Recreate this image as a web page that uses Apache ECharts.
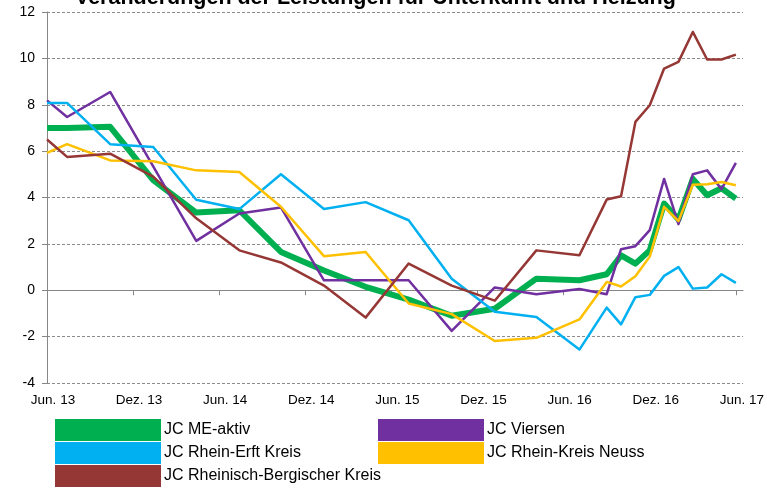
<!DOCTYPE html>
<html>
<head>
<meta charset="utf-8">
<script src="https://cdn.jsdelivr.net/npm/echarts@6/dist/echarts.min.js"></script>
<style>
  html, body { margin: 0; background: #fff; }
  #chart { width: 767px; height: 490px; }
</style>
</head>
<body>
<div id="chart"></div>
<script>
const chartTitle = 'Veränderungen der Leistungen für Unterkunft und Heizung'
const tickLabels = ['Jun. 13', 'Dez. 13', 'Jun. 14', 'Dez. 14', 'Jun. 15', 'Dez. 15', 'Jun. 16', 'Dez. 16', 'Jun. 17']
const tickMonths = [0, 6, 12, 18, 24, 30, 36, 42, 48]

// months counted from Jun. 13 (quarterly at first, monthly from autumn 2016)
const months = [0, 1.4, 4.4, 7.4, 10.4, 13.4, 16.3, 19.3, 22.2, 25.2, 28.2, 31.2, 34.1, 37.1, 39, 40, 41, 42, 43, 44, 45, 46, 47, 48]

const meAktiv = [7.0, 7.0, 7.05, 4.75, 3.35, 3.45, 1.65, 0.85, 0.15, -0.4, -1.1, -0.8, 0.5, 0.43, 0.69, 1.5, 1.15, 1.72, 3.74, 3.05, 4.8, 4.1, 4.4, 3.95]
const viersen = [8.19, 7.47, 8.55, 5.34, 2.13, 3.31, 3.57, 0.43, 0.43, 0.43, -1.75, 0.12, -0.17, 0.05, -0.17, 1.77, 1.9, 2.59, 4.8, 2.85, 5.0, 5.17, 4.36, 5.49]
const rheinErft = [8.08, 8.08, 6.3, 6.18, 3.9, 3.5, 5.0, 3.5, 3.8, 3.02, 0.5, -0.93, -1.15, -2.56, -0.75, -1.47, -0.3, -0.2, 0.62, 1.0, 0.07, 0.12, 0.69, 0.32]
const neuss = [5.92, 6.3, 5.6, 5.56, 5.17, 5.1, 3.6, 1.47, 1.65, -0.57, -1.03, -2.19, -2.05, -1.26, 0.36, 0.16, 0.6, 1.45, 3.6, 2.98, 4.55, 4.57, 4.67, 4.53]
const rheinBerg = [6.5, 5.75, 5.89, 4.9, 3.1, 1.72, 1.2, 0.2, -1.18, 1.15, 0.2, -0.45, 1.72, 1.51, 3.91, 4.05, 7.26, 7.98, 9.56, 9.85, 11.14, 9.95, 9.95, 10.16]

const pairs = vals => vals.map((v, i) => [months[i], v])

const chart = echarts.init(document.getElementById('chart'))

const axisGrey = '#868686'

const legendBase = {
  orient: 'vertical',
  top: 419,
  padding: 0,
  icon: 'rect',
  itemWidth: 106,
  itemHeight: 22,
  itemGap: 1,
  textStyle: { fontSize: 16, color: '#000', padding: [0, 0, 0, -2] }
}

const option = {
  animation: false,
  textStyle: { fontFamily: 'Liberation Sans, Arial, sans-serif' },
  title: {
    text: chartTitle,
    left: 75,
    top: -13,
    padding: 0,
    textStyle: { fontSize: 21.5, fontWeight: 'bold', color: '#000' }
  },
  // plot area runs a little past the last month, like the Excel gridlines
  grid: { left: 47, right: 20, top: 12, bottom: 107 },
  legend: [
    Object.assign({}, legendBase, {
      left: 55,
      data: ['JC ME-aktiv', 'JC Rhein-Erft Kreis', 'JC Rheinisch-Bergischer Kreis']
    }),
    Object.assign({}, legendBase, {
      left: 378,
      data: ['JC Viersen', 'JC Rhein-Kreis Neuss']
    })
  ],
  xAxis: [
    {
      type: 'value',
      min: 0,
      max: 48.5,
      position: 'bottom',
      axisLine: { show: false, onZero: false },
      axisTick: { show: false },
      splitLine: { show: false },
      axisLabel: {
        customValues: tickMonths,
        margin: 10,
        fontSize: 13.5,
        color: '#000',
        padding: [0, 0, 0, 12],
        formatter: v => tickLabels[tickMonths.indexOf(v)]
      }
    },
    {
      type: 'value',
      min: 0,
      max: 48.5,
      position: 'bottom',
      axisLine: { show: true, onZero: true, lineStyle: { color: axisGrey } },
      axisTick: { show: true, customValues: tickMonths, length: 5, lineStyle: { color: axisGrey } },
      axisLabel: { show: false },
      splitLine: { show: false }
    }
  ],
  yAxis: {
    type: 'value',
    min: -4,
    max: 12,
    interval: 2,
    axisLine: { show: true, lineStyle: { color: axisGrey } },
    axisTick: { show: true, length: 5, lineStyle: { color: axisGrey } },
    axisLabel: { fontSize: 14, color: '#000', margin: 12 },
    splitLine: { lineStyle: { color: '#8c8c8c', type: [3, 2] } }
  },
  // Excel order: later series drawn on top
  series: [
    { name: 'JC ME-aktiv', color: '#00b050', lineWidth: 6, data: meAktiv },
    { name: 'JC Viersen', color: '#7030a0', lineWidth: 2.5, data: viersen },
    { name: 'JC Rhein-Erft Kreis', color: '#00b0f0', lineWidth: 2.5, data: rheinErft },
    { name: 'JC Rhein-Kreis Neuss', color: '#ffc000', lineWidth: 2.5, data: neuss },
    { name: 'JC Rheinisch-Bergischer Kreis', color: '#953735', lineWidth: 2.5, data: rheinBerg }
  ].map(s => ({
    name: s.name,
    type: 'line',
    xAxisIndex: 0,
    showSymbol: false,
    symbol: 'none',
    color: s.color,
    lineStyle: { width: s.lineWidth, color: s.color, join: 'round' },
    data: pairs(s.data)
  }))
}

chart.setOption(option)
</script>
</body>
</html>
